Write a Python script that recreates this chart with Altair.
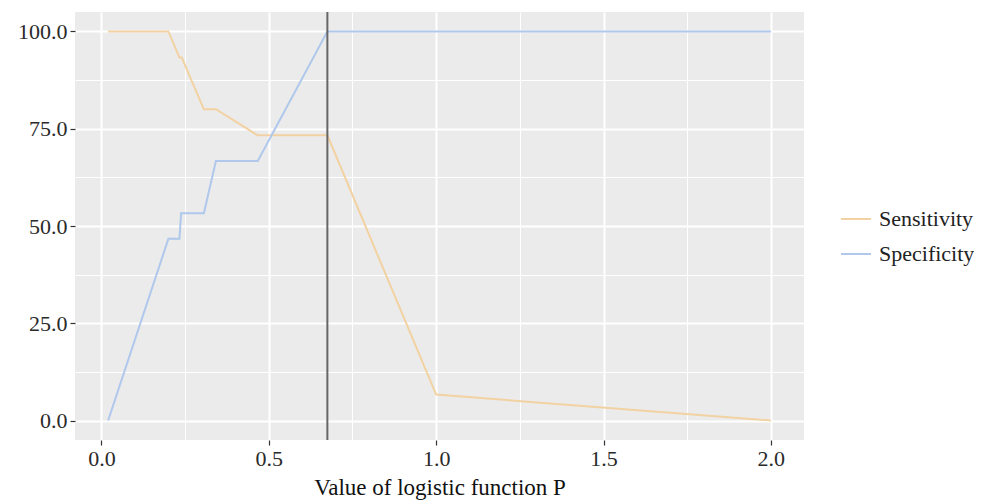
import altair as alt
import pandas as pd

# Shared breakpoints of logistic-function threshold P
p_sens = [0.02, 0.20, 0.233, 0.24, 0.306, 0.342, 0.467, 0.675, 1.0, 2.0]
sensitivity = [100.0, 100.0, 93.3, 93.3, 80.0, 80.0, 73.3, 73.3, 6.67, 0.0]

p_spec = [0.02, 0.20, 0.233, 0.238, 0.306, 0.342, 0.467, 0.675, 1.0, 2.0]
specificity = [0.0, 46.7, 46.7, 53.3, 53.3, 66.7, 66.7, 100.0, 100.0, 100.0]

cutoff = [0.675]

series_names = ["Sensitivity", "Specificity"]
series_colors = ["#F2D2A2", "#AFC8EC"]

x_ticks = [0.0, 0.25, 0.5, 0.75, 1.0, 1.25, 1.5, 1.75, 2.0]
y_ticks = [0.0, 12.5, 25.0, 37.5, 50.0, 62.5, 75.0, 87.5, 100.0]

rows = []
for i, (p, v) in enumerate(zip(p_sens, sensitivity)):
    rows.append({"P": p, "value": v, "series": "Sensitivity", "order": i})
for i, (p, v) in enumerate(zip(p_spec, specificity)):
    rows.append({"P": p, "value": v, "series": "Specificity", "order": i})
df = pd.DataFrame(rows)
cut_df = pd.DataFrame({"P": cutoff})

FONT = "Liberation Serif"

x_scale = alt.Scale(domain=[-0.079, 2.099], nice=False, zero=False)
y_scale = alt.Scale(domain=[-5, 105], nice=False, zero=False)

x_axis = alt.Axis(
    values=x_ticks,
    title="Value of logistic function P",
    labelExpr="datum.value % 0.5 === 0 ? format(datum.value, '.1f') : ''",
    labelOverlap=False,
    gridColor="white",
    gridWidth={"condition": {"test": "datum.value % 0.5 === 0", "value": 2}, "value": 1},
    tickOpacity={"condition": {"test": "datum.value % 0.5 === 0", "value": 1}, "value": 0},
)
y_axis = alt.Axis(
    values=y_ticks,
    title=None,
    labelExpr="datum.value % 25 === 0 ? format(datum.value, '.1f') : ''",
    labelOverlap=False,
    gridColor="white",
    gridWidth={"condition": {"test": "datum.value % 25 === 0", "value": 2}, "value": 1},
    tickOpacity={"condition": {"test": "datum.value % 25 === 0", "value": 1}, "value": 0},
)

lines = alt.Chart(df).mark_line(strokeWidth=2).encode(
    x=alt.X("P:Q", scale=x_scale, axis=x_axis),
    y=alt.Y("value:Q", scale=y_scale, axis=y_axis),
    color=alt.Color(
        "series:N",
        scale=alt.Scale(domain=series_names, range=series_colors),
        legend=alt.Legend(
            title=None,
            orient="none",
            legendX=765,
            legendY=191,
            symbolType="stroke",
            symbolSize=900,
            symbolStrokeWidth=2,
            labelFont=FONT,
            labelFontSize=22,
            labelColor="#222",
            rowPadding=8,
            labelOffset=7,
        ),
    ),
    order="order:Q",
)

rule = alt.Chart(cut_df).mark_rule(color="#666666", strokeWidth=2).encode(
    x=alt.X("P:Q", scale=x_scale)
)

chart = (
    alt.layer(lines, rule)
    .properties(
        width=729,
        height=428,
        autosize=alt.AutoSizeParams(type="none"),
        padding={"left": 67, "top": 4, "right": 170, "bottom": 60},
        background="white",
    )
    .configure_view(fill="#EBEBEB", stroke=None)
    .configure_axis(
        domain=False,
        labelFont=FONT,
        labelFontSize=22,
        labelColor="#2A2A2A",
        tickColor="#333333",
        tickSize=5,
        tickWidth=1.2,
        labelPadding=3,
        titleFont=FONT,
        titleFontSize=23,
        titleFontWeight="normal",
        titleColor="#111111",
        titlePadding=7,
    )
)

chart.save("out.html", embed_options={"renderer": "svg", "actions": False})
